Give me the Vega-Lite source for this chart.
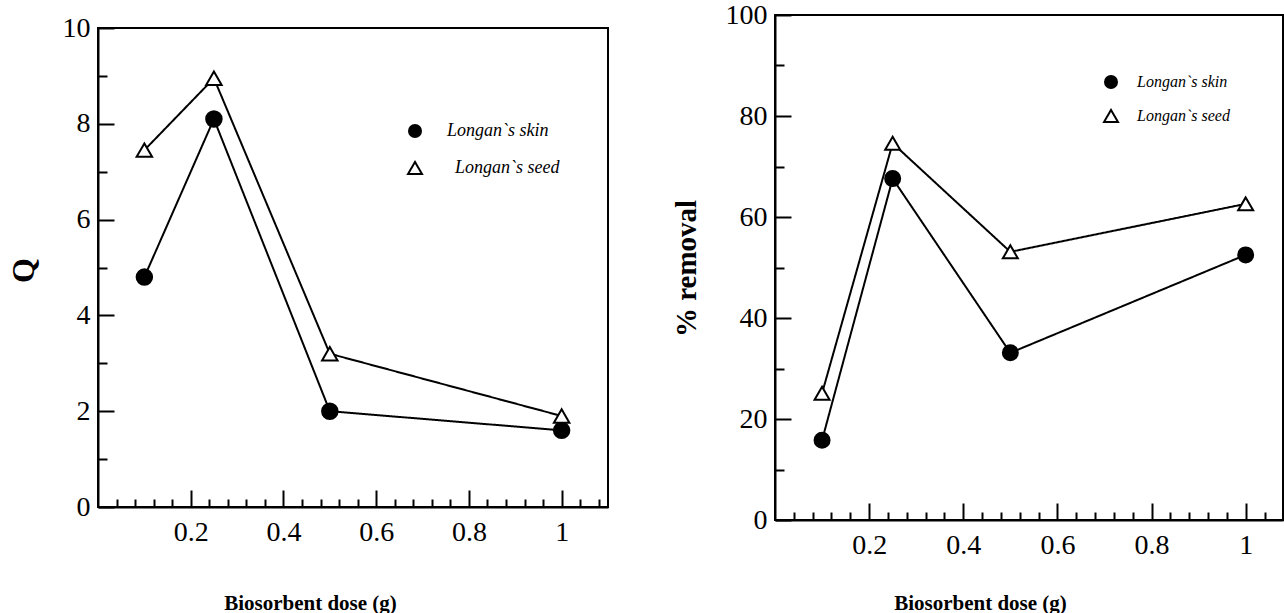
{
  "$schema": "https://vega.github.io/schema/vega-lite/v6.json",
  "padding": {"left": 6, "top": 0, "right": 0, "bottom": 0},
  "bounds": "flush",
  "center": true,
  "spacing": 167,
  "resolve": {"scale": {"shape": "independent", "fill": "independent", "strokeDash": "independent"}, "legend": {"shape": "independent", "fill": "independent", "strokeDash": "independent"}},
  "datasets": {
    "left": [
      {"dose": 0.1, "value": 4.8, "series": "Longan`s skin"},
      {"dose": 0.25, "value": 8.1, "series": "Longan`s skin"},
      {"dose": 0.5, "value": 2.0, "series": "Longan`s skin"},
      {"dose": 1.0, "value": 1.6, "series": "Longan`s skin"},
      {"dose": 0.1, "value": 7.45, "series": "Longan`s seed"},
      {"dose": 0.25, "value": 8.95, "series": "Longan`s seed"},
      {"dose": 0.5, "value": 3.2, "series": "Longan`s seed"},
      {"dose": 1.0, "value": 1.9, "series": "Longan`s seed"}
    ],
    "right": [
      {"dose": 0.1, "value": 15.8, "series": "Longan`s skin"},
      {"dose": 0.25, "value": 67.6, "series": "Longan`s skin"},
      {"dose": 0.5, "value": 33.1, "series": "Longan`s skin"},
      {"dose": 1.0, "value": 52.5, "series": "Longan`s skin"},
      {"dose": 0.1, "value": 25.1, "series": "Longan`s seed"},
      {"dose": 0.25, "value": 74.6, "series": "Longan`s seed"},
      {"dose": 0.5, "value": 53.1, "series": "Longan`s seed"},
      {"dose": 1.0, "value": 62.6, "series": "Longan`s seed"}
    ]
  },
  "hconcat": [
    {
      "width": 510,
      "height": 479,
      "data": {"name": "left"},
      "layer": [
        {
          "mark": {"type": "line", "color": "black", "strokeWidth": 2},
          "encoding": {
            "x": {"field": "dose", "type": "quantitative", "scale": {"domain": [0, 1.1], "nice": false, "zero": false},
              "axis": {"orient": "bottom", "values": [0.2, 0.4, 0.6, 0.8, 1], "format": "~g", "tickSize": -17, "labelFontSize": 28, "labelPadding": 28, "labelFlush": false,
                "title": "Biosorbent dose (g)", "titleFontSize": 21, "titleFontWeight": "bold", "titleX": 212, "titleY": 96, "titleBaseline": "middle"}},
            "y": {"field": "value", "type": "quantitative", "scale": {"domain": [0, 10], "nice": false},
              "axis": {"orient": "left", "values": [0, 2, 4, 6, 8, 10], "format": "d", "tickSize": -16, "labelFontSize": 28, "labelPadding": 24, "labelFlush": false,
                "title": "Q", "titleFontSize": 32, "titleFontWeight": "bold", "titleX": -75, "titleY": 242, "titleBaseline": "middle", "titleAngle": -90}},
            "strokeDash": {"field": "series", "type": "nominal", "scale": {"domain": ["Longan`s seed", "Longan`s skin"], "range": [[1, 0], [1, 0]]},
              "legend": {"values": ["Longan`s seed"], "orient": "none", "legendX": 308, "legendY": 131, "title": null, "padding": 0,
                "labelFontSize": 18, "labelFontStyle": "italic", "labelFont": "Liberation Serif", "labelColor": "black",
                "symbolType": "triangle-up", "symbolSize": 196, "symbolStrokeWidth": 2, "symbolStrokeColor": "black", "symbolFillColor": "white",
                "labelOffset": 31}}
          }
        },
        {
          "mark": {"type": "point", "filled": true, "stroke": "black", "strokeWidth": 2, "size": 240, "opacity": 1, "fillOpacity": 1},
          "encoding": {
            "x": {"field": "dose", "type": "quantitative", "scale": {"domain": [0, 1.1], "nice": false, "zero": false},
              "axis": {"orient": "bottom", "values": [0.04, 0.08, 0.12, 0.16, 0.24, 0.28, 0.32, 0.36, 0.44, 0.48, 0.52, 0.56, 0.64, 0.68, 0.72, 0.76, 0.84, 0.88, 0.92, 0.96, 1.04, 1.08], "tickSize": -8, "labels": false, "domain": false, "title": null}},
            "y": {"field": "value", "type": "quantitative", "scale": {"domain": [0, 10], "nice": false},
              "axis": {"orient": "left", "values": [1, 3, 5, 7, 9], "tickSize": -9, "labels": false, "domain": false, "title": null}},
            "fill": {"field": "series", "type": "nominal", "scale": {"domain": ["Longan`s skin", "Longan`s seed"], "range": ["black", "white"]}, "legend": null},
            "shape": {"field": "series", "type": "nominal", "scale": {"domain": ["Longan`s skin", "Longan`s seed"], "range": ["circle", "triangle-up"]},
              "legend": {"values": ["Longan`s skin"], "orient": "none", "legendX": 308, "legendY": 94, "title": null, "padding": 0,
                "labelFontSize": 18, "labelFontStyle": "italic", "labelFont": "Liberation Serif", "labelColor": "black",
                "symbolSize": 196, "symbolStrokeWidth": 2, "symbolStrokeColor": "black", "labelOffset": 23}}
          }
        }
      ],
      "resolve": {"axis": {"x": "independent", "y": "independent"}}
    },
    {
      "width": 508,
      "height": 505,
      "data": {"name": "right"},
      "layer": [
        {
          "mark": {"type": "line", "color": "black", "strokeWidth": 2},
          "encoding": {
            "x": {"field": "dose", "type": "quantitative", "scale": {"domain": [0, 1.0793], "nice": false, "zero": false},
              "axis": {"orient": "bottom", "values": [0.2, 0.4, 0.6, 0.8, 1], "format": "~g", "tickSize": -17, "labelFontSize": 28, "labelPadding": 28, "labelFlush": false,
                "title": "Biosorbent dose (g)", "titleFontSize": 21, "titleFontWeight": "bold", "titleX": 205, "titleY": 83, "titleBaseline": "middle"}},
            "y": {"field": "value", "type": "quantitative", "scale": {"domain": [0, 100], "nice": false},
              "axis": {"orient": "left", "values": [0, 20, 40, 60, 80, 100], "format": "d", "tickSize": -16, "labelFontSize": 28, "labelPadding": 24, "labelFlush": false,
                "title": "% removal", "titleFontSize": 29, "titleFontWeight": "bold", "titleX": -89, "titleY": 253, "titleBaseline": "middle", "titleAngle": -90}},
            "strokeDash": {"field": "series", "type": "nominal", "scale": {"domain": ["Longan`s seed", "Longan`s skin"], "range": [[1, 0], [1, 0]]},
              "legend": {"values": ["Longan`s seed"], "orient": "none", "legendX": 328, "legendY": 93, "title": null, "padding": 0,
                "labelFontSize": 16, "labelFontStyle": "italic", "labelFont": "Liberation Serif", "labelColor": "black",
                "symbolType": "triangle-up", "symbolSize": 196, "symbolStrokeWidth": 2, "symbolStrokeColor": "black", "symbolFillColor": "white",
                "labelOffset": 18}}
          }
        },
        {
          "mark": {"type": "point", "filled": true, "stroke": "black", "strokeWidth": 2, "size": 225, "opacity": 1, "fillOpacity": 1},
          "encoding": {
            "x": {"field": "dose", "type": "quantitative", "scale": {"domain": [0, 1.0793], "nice": false, "zero": false},
              "axis": {"orient": "bottom", "values": [0.04, 0.08, 0.12, 0.16, 0.24, 0.28, 0.32, 0.36, 0.44, 0.48, 0.52, 0.56, 0.64, 0.68, 0.72, 0.76, 0.84, 0.88, 0.92, 0.96, 1.04], "tickSize": -8, "labels": false, "domain": false, "title": null}},
            "y": {"field": "value", "type": "quantitative", "scale": {"domain": [0, 100], "nice": false},
              "axis": {"orient": "left", "values": [10, 30, 50, 70, 90], "tickSize": -9, "labels": false, "domain": false, "title": null}},
            "fill": {"field": "series", "type": "nominal", "scale": {"domain": ["Longan`s skin", "Longan`s seed"], "range": ["black", "white"]}, "legend": null},
            "shape": {"field": "series", "type": "nominal", "scale": {"domain": ["Longan`s skin", "Longan`s seed"], "range": ["circle", "triangle-up"]},
              "legend": {"values": ["Longan`s skin"], "orient": "none", "legendX": 328, "legendY": 59, "title": null, "padding": 0,
                "labelFontSize": 16, "labelFontStyle": "italic", "labelFont": "Liberation Serif", "labelColor": "black",
                "symbolSize": 196, "symbolStrokeWidth": 2, "symbolStrokeColor": "black", "labelOffset": 18}}
          }
        }
      ],
      "resolve": {"axis": {"x": "independent", "y": "independent"}}
    }
  ],
  "config": {
    "font": "Liberation Serif",
    "view": {"stroke": "black", "strokeWidth": 2},
    "axis": {"grid": false, "domainColor": "black", "domainWidth": 2, "tickColor": "black", "tickWidth": 2,
      "labelColor": "black", "titleColor": "black", "labelFont": "Liberation Serif", "titleFont": "Liberation Serif"},
    "legend": {"labelFont": "Liberation Serif"}
  }
}
